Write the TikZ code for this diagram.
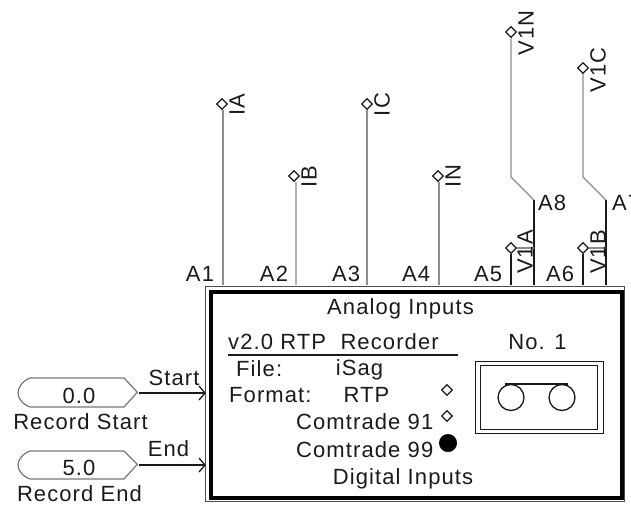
\documentclass[tikz,border=0pt]{standalone}
\usepackage{fontspec}
\setmainfont[LetterSpace=5]{Liberation Sans}
\definecolor{ink}{HTML}{1A1A1A}
\definecolor{wire}{HTML}{8C8C8C}
\definecolor{hexc}{HTML}{777777}
\tikzset{
  lbl/.style={inner sep=0pt,text=ink,font=\fontsize{22}{24}\selectfont},
  vlbl/.style={lbl,rotate=90},
  pin/.style={diamond,aspect=1,draw=ink,fill=white,line width=1.2pt,minimum size=11pt,inner sep=0pt},
  wirel/.style={draw=wire,line width=1.3pt},
  wired/.style={draw=ink,line width=1.3pt},
  wirelt/.style={draw=black!30,line width=1.3pt},
  source/.style={draw=hexc,line width=1.2pt},
  arr/.style={draw=ink,line width=1.3pt},
  bx/.style={rectangle,inner sep=0pt,anchor=north west}
}
\usetikzlibrary{shapes.geometric}
\begin{document}
\begin{tikzpicture}[x=1pt,y=-1pt]
\useasboundingbox (0,0) rectangle (631,506);
\clip (0,0) rectangle (631,506);
% main box
\node[bx,draw=black!70,line width=1.2pt,minimum width=419pt,minimum height=215pt] (box) at (205,285.5) {};
\node[bx,draw=black,line width=3.6pt,minimum width=411pt,minimum height=206pt] (inner) at (209,290) {};
% pins
\node[pin] (pIA) at (222,104) {};
\node[pin] (pIB) at (294,176) {};
\node[pin] (pIC) at (367,104) {};
\node[pin] (pIN) at (438,176) {};
\node[pin] (pV1N) at (511,32) {};
\node[pin] (pV1C) at (583,68) {};
\coordinate (k8a) at (511,177);
\coordinate (k8b) at (534,200);
\coordinate (k7a) at (583,177);
\coordinate (k7b) at (606,200);
\coordinate (b1) at (223,285);
\coordinate (b2) at (296,285);
\coordinate (b3) at (367,285);
\coordinate (b4) at (439,285);
\coordinate (b5a) at (511,285);
\coordinate (b5b) at (534,285);
\coordinate (b6a) at (583,285);
\coordinate (b6b) at (606,285);
\draw[wirel] (pIA.south) ++(1,0) -- (b1);
\draw[wirelt] (pIB.south) ++(2,0) -- (b2);
\draw[wirel] (pIC.south) -- (b3);
\draw[wirel] (pIN.south) ++(1,0) -- (b4);
\draw[wirel] (pV1N.south) -- (k8a) -- (k8b);
\draw[wired] (k8b) -- (b5b);
\draw[wirel] (pV1C.south) -- (k7a) -- (k7b);
\draw[wired] (k7b) -- (b6b);
\node[pin] (pV1A) at (511,248) {};
\node[pin] (pV1B) at (583,248) {};
\draw[wired] (pV1A.south) -- (b5a);
\draw[wired] (pV1B.south) -- (b6a);
\draw[wirel] (pV1A.east) -- (pV1A -| b5b);
\draw[wirel] (pV1B.east) -- (pV1B -| b6b);
% pin labels
\node[vlbl] (tIA) at (237,104.5) {IA};
\node[vlbl] (tIB) at (309,177) {IB};
\node[vlbl] (tIC) at (382,104.5) {IC};
\node[vlbl] (tIN) at (453,176) {IN};
\node[vlbl] (tV1N) at (526,33) {V1N};
\node[vlbl] (tV1C) at (598,70) {V1C};
\node[vlbl] (tV1A) at (525,252) {V1A};
\node[vlbl] (tV1B) at (598,252) {V1B};
\node[lbl] (A1) at (200,274) {A1};
\node[lbl] (A2) at (274,274) {A2};
\node[lbl] (A3) at (346,274) {A3};
\node[lbl] (A4) at (416,274) {A4};
\node[lbl] (A5) at (488,274) {A5};
\node[lbl] (A6) at (560,274) {A6};
\node[lbl] (A8) at (552,203) {A8};
\node[lbl,anchor=west] (A7) at (612,203) {A7};
% sources
\node[inner sep=0pt] (s1) at (138,393) {};
\node[inner sep=0pt] (s2) at (138,465) {};
\draw[source] (s1) -- (124,378) -- (30,378) .. controls (22,381) and (18,388) .. (18,393) .. controls (18,398) and (22,404) .. (30,407) -- (124,407) -- cycle;
\draw[source] (s2) -- (124,451) -- (30,451) .. controls (22,454) and (18,460) .. (18,465) .. controls (18,470) and (22,476) .. (30,479) -- (124,479) -- cycle;
\coordinate (e1) at (box.west |- s1);
\coordinate (e2) at (box.west |- s2);
\draw[arr] (s1) -- (e1);
\draw[arr] (s2) -- (e2);
\draw[arr] (199,386) -- (205,393) -- (199,400);
\draw[arr] (199,458) -- (205,465) -- (199,472);
\node[lbl] (v0) at (79,396) {0.0};
\node[lbl] (v5) at (79,468) {5.0};
\node[lbl] (rs) at (80.5,421.5) {Record Start};
\node[lbl] (re) at (79.5,494) {Record End};
\node[lbl] (st) at (174,378) {Start};
\node[lbl] (en) at (168.5,449) {End};
% inside
\node[lbl] (ai) at (400.5,309) {Analog Inputs};
\node[lbl,anchor=west] (ver) at (228,342) {v2.0 RTP\ \ Recorder};
\coordinate (u1) at (228,355);
\coordinate (u2) at (458,355);
\draw[draw=ink,line width=1.3pt] (u1) -- (u2);
\node[lbl,anchor=west] (fl) at (236,369) {File:};
\node[lbl] (is) at (359.5,370) {iSag};
\node[lbl,anchor=west] (fm) at (229,395) {Format:};
\node[lbl] (rtp) at (366.5,395) {RTP};
\node[lbl,anchor=west] (c91) at (296,422) {Comtrade 91};
\node[lbl,anchor=west] (c99) at (296,450) {Comtrade 99};
\node[lbl] (di) at (403,479) {Digital Inputs};
\node[lbl] (no) at (537.5,342) {No. 1};
\node[pin] (r1) at (447,390) {};
\node[pin] (r2) at (447,416) {};
\node[circle,fill=black,minimum size=18pt,inner sep=0pt] (r3) at (448,443) {};
% tape
\node[bx,draw=ink,line width=1.3pt,minimum width=128pt,minimum height=72pt] (tape) at (475,361) {};
\node[bx,draw=ink,line width=1.3pt,minimum width=117pt,minimum height=64pt] (tape2) at (480,365) {};
\node[circle,draw=ink,line width=1.3pt,minimum size=26pt,inner sep=0pt] (c1) at (511,397.5) {};
\node[circle,draw=ink,line width=1.3pt,minimum size=26pt,inner sep=0pt] (c2) at (562,397.5) {};
\draw[draw=ink,line width=1.3pt] (c1.north) ++(-6,0) -- ++(63,0);
\end{tikzpicture}
\end{document}
